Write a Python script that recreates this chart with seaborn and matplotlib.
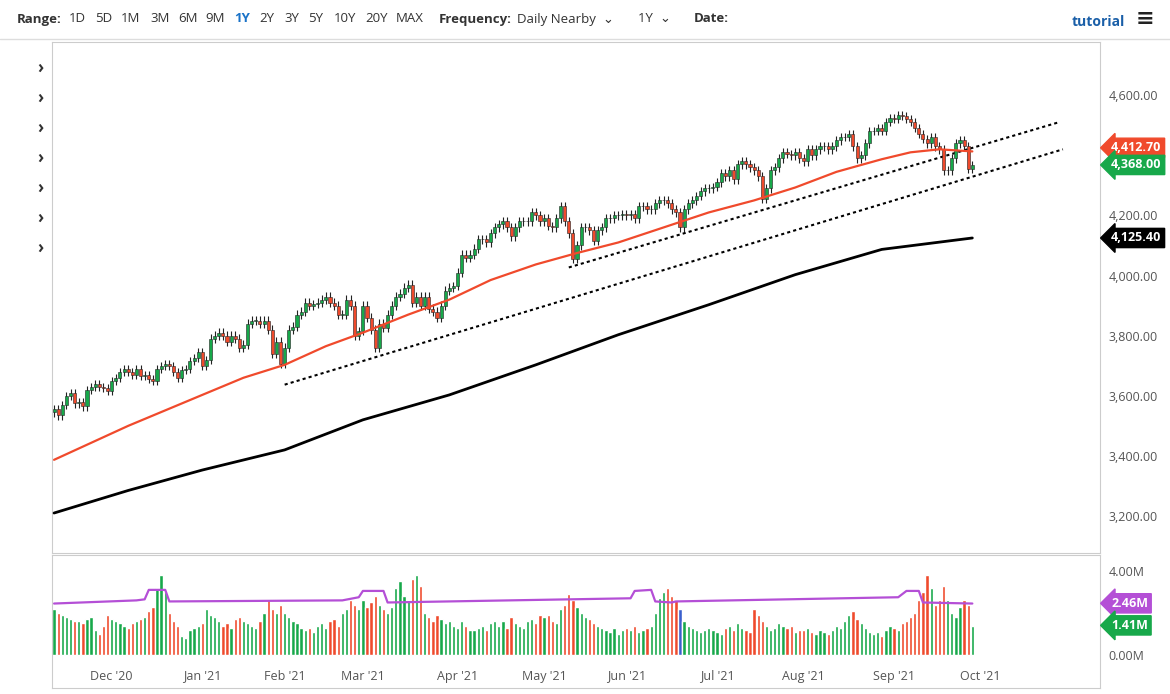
import numpy as np
import pandas as pd
import matplotlib
matplotlib.use("Agg")
import matplotlib.pyplot as plt
import seaborn as sns

# ---------------- data ----------------
close_nov = [3555,3535,3570,3600,3610,3575,3580,3565,3620,3630,3640,3630,3625,3615]
close_dec = [3650,3660,3680,3690,3680,3670,3690,3665,3670,3655,3650,3690,3700,3705,3700,3680,3660,3685,3690,3715,3725,3745]
close_jan = [3700,3720,3790,3800,3810,3800,3780,3800,3790,3760,3770,3840,3850,3850,3840,3850,3820,3740,3780,3705]
close_feb = [3760,3820,3830,3870,3880,3910,3900,3905,3910,3920,3930,3910,3900,3870,3870,3920,3900,3800,3815]
close_mar = [3900,3860,3820,3760,3840,3825,3870,3900,3930,3940,3960,3970,3910,3930,3900,3930,3890,3880,3860,3900,3950,3960,3965]
close_apr = [4010,4070,4060,4070,4090,4120,4120,4110,4140,4160,4170,4180,4160,4130,4160,4180,4180,4180,4210,4200,4180]
close_may = [4190,4165,4160,4190,4230,4180,4140,4055,4100,4160,4160,4150,4115,4150,4160,4190,4190,4200,4200,4205]
close_jun = [4200,4205,4190,4230,4230,4220,4220,4240,4250,4250,4240,4220,4210,4160,4220,4240,4250,4265,4280,4290,4290,4295]
close_jul = [4310,4340,4330,4350,4320,4370,4380,4370,4360,4350,4330,4255,4290,4350,4360,4390,4410,4405,4400,4410,4390]
close_aug = [4380,4420,4400,4420,4430,4430,4420,4430,4450,4460,4460,4470,4430,4390,4400,4440,4480,4480,4490,4480,4510,4525]
close_sep = [4520,4535,4530,4520,4510,4490,4470,4455,4440,4460,4430,4420,4350,4350,4390,4440,4450,4430,4355,4368]

vol_nov = [2.2,2.0,1.9,1.8,1.7,1.6,1.6,1.5,1.7,1.8,1.2,1.0,1.4,1.9]
vol_dec = [1.7,1.6,1.5,1.4,1.3,1.5,1.6,1.7,1.8,2.1,2.3,3.2,3.8,3.0,2.0,1.6,1.4,0.9,0.8,1.2,1.3,1.4]
vol_jan = [1.5,2.2,1.9,1.8,1.6,1.4,1.5,1.3,1.7,1.8,1.6,1.5,1.4,1.3,1.6,2.0,2.6,2.2,2.0,2.4]
vol_feb = [2.0,1.8,1.6,1.5,1.3,1.2,1.3,1.1,1.4,1.5,1.3,1.6,1.7,1.4,2.0,2.2,2.6,2.4,2.2]
vol_mar = [2.6,2.3,2.5,2.8,2.4,2.2,2.0,2.3,3.2,3.5,2.8,2.6,3.6,3.8,3.3,2.0,1.8,1.6,1.9,1.7,1.5,1.6,1.4]
vol_apr = [1.3,1.6,1.4,1.2,1.2,1.3,1.4,1.2,1.5,1.6,1.4,1.6,1.3,1.8,1.5,1.4,1.3,1.6,1.7,1.5,1.9]
vol_may = [1.8,1.9,1.6,1.5,2.2,2.4,2.9,2.6,2.3,2.0,1.8,1.7,1.5,1.4,1.3,1.2,1.1,1.3,1.0,1.2]
vol_jun = [1.3,1.2,1.4,1.1,1.2,1.3,1.4,2.0,2.7,3.0,3.2,2.8,2.6,2.2,1.6,1.4,1.3,1.2,1.1,1.2,1.3,1.2]
vol_jul = [1.1,1.0,1.3,1.4,1.2,1.5,1.3,1.2,1.1,2.2,1.9,1.6,1.4,1.2,1.3,1.5,1.4,1.3,1.4,1.1,1.2]
vol_aug = [1.2,1.3,1.1,1.0,1.2,1.1,1.0,1.2,1.4,1.3,1.6,1.9,2.1,1.7,1.5,1.3,1.1,1.0,1.1,0.9,1.2,1.4]
vol_sep = [1.3,1.2,1.5,1.6,1.8,2.0,2.6,3.0,3.8,3.2,2.4,2.6,3.3,2.6,2.0,1.8,2.3,2.6,2.4,1.4]

month_labels = ["Dec '20","Jan '21","Feb '21","Mar '21","Apr '21","May '21","Jun '21","Jul '21","Aug '21","Sep '21","Oct '21"]

# moving averages (bar index, value)
ma50_idx = [0, 18, 36, 46, 56, 66, 75, 86, 96, 106, 117, 127, 137, 148, 159, 170, 180, 190, 201, 208, 215, 223]
ma50_val = [3387, 3500, 3603, 3660, 3703, 3765, 3810, 3870, 3920, 3985, 4037, 4075, 4110, 4160, 4210, 4250, 4293, 4345, 4387, 4410, 4420, 4413]
ma200_idx = [0, 18, 36, 56, 75, 96, 117, 137, 159, 180, 201, 223]
ma200_val = [3210, 3285, 3353, 3420, 3520, 3603, 3703, 3803, 3903, 4003, 4087, 4125]
vma_idx = [0, 20, 22, 23, 27, 28, 70, 74, 75, 80, 81, 140, 141, 145, 146, 150, 151, 205, 207, 210, 211, 223]
vma_val = [2.45, 2.6, 2.65, 3.1, 3.1, 2.55, 2.6, 2.75, 3.05, 3.05, 2.5, 2.7, 3.05, 3.1, 2.55, 2.5, 2.55, 2.75, 3.05, 3.05, 2.5, 2.45]
trend1_idx = [56, 245]; trend1_val = [3637, 4420]
trend2_idx = [125, 244]; trend2_val = [4027, 4510]

# ---------------- build ----------------
closes = np.array(close_nov+close_dec+close_jan+close_feb+close_mar+close_apr+close_may+close_jun+close_jul+close_aug+close_sep, float)
vols = np.array(vol_nov+vol_dec+vol_jan+vol_feb+vol_mar+vol_apr+vol_may+vol_jun+vol_jul+vol_aug+vol_sep, float)
month_sizes = [len(a) for a in [close_nov,close_dec,close_jan,close_feb,close_mar,close_apr,close_may,close_jun,close_jul,close_aug,close_sep]]
opens = np.concatenate([[closes[0]-10], closes[:-1]])
n = len(closes)
idx = np.arange(n)
up = closes >= opens
GREEN, RED = "#17a84a", "#ef4a2c"
cols = np.where(up, GREEN, RED)

sns.set_style("white")
plt.rcParams['font.family'] = ['Open Sans', 'DejaVu Sans']
fig = plt.figure(figsize=(11.7, 6.94), dpi=100)
W, H = 1170, 694
ax = fig.add_axes([52/W, (H-553)/H, 1048/W, 511/H])
axv = fig.add_axes([52/W, (H-688)/H, 1048/W, 133/H], sharex=ax)

# candles
lo = np.minimum(opens, closes); hi = np.maximum(opens, closes)
ax.vlines(idx, lo-14, hi+14, color="#222222", lw=0.8, zorder=2)
ax.bar(idx, np.maximum(hi-lo, 2), bottom=lo, width=0.75, color=cols, edgecolor="#222222", linewidth=0.4, zorder=3)
sns.lineplot(x=ma50_idx, y=ma50_val, ax=ax, color="#f04a2c", lw=1.6, zorder=4)
sns.lineplot(x=ma200_idx, y=ma200_val, ax=ax, color="black", lw=2.0, zorder=4)
ax.plot(trend1_idx, trend1_val, ls=(0, (1.5, 1.5)), color="black", lw=1.5)
ax.plot(trend2_idx, trend2_val, ls=(0, (1.5, 1.5)), color="black", lw=1.5)
ax.set_xlim(-0.5, n + 30)
ax.set_ylim(3077, 4777)
ax.yaxis.tick_right()
ax.set_yticks([3200, 3400, 3600, 3800, 4000, 4200, 4600])
ax.set_yticklabels([f"{v:,.2f}" for v in [3200, 3400, 3600, 3800, 4000, 4200, 4600]], fontsize=9, color="#555555")
ax.tick_params(axis='y', length=0, pad=6)
plt.setp(ax.get_xticklabels(), visible=False)
ax.tick_params(axis='x', length=0)
for s in ax.spines.values():
    s.set_color("#cccccc")

def tag(a, y, text, fc):
    a.annotate(text, xy=(1.0, y), xycoords=("axes fraction", "data"), xytext=(8, 0), textcoords="offset points",
               ha="left", va="center", fontsize=9, fontweight="bold", color="white",
               bbox=dict(boxstyle="larrow,pad=0.25", fc=fc, ec=fc))
tag(ax, 4425, "4,412.70", "#f04a2c")
tag(ax, 4368, "4,368.00", GREEN)
tag(ax, 4125, "4,125.40", "black")

# volume
vcols = cols.copy()
vcols[152] = "#3a5fcd"
axv.bar(idx, vols, width=0.8, color=vcols)
sns.lineplot(x=vma_idx, y=vma_val, ax=axv, color="#b44fd6", lw=1.6)
axv.set_ylim(-1.57, 4.76)
axv.yaxis.tick_right()
axv.set_yticks([0, 4])
axv.set_yticklabels(["0.00M", "4.00M"], fontsize=9, color="#555555")
axv.tick_params(axis='y', length=0, pad=6)
starts = np.cumsum(month_sizes)[:-1]
ticks = list(starts) + [n + 1]
axv.set_xticks([])
for t, lab in zip(ticks, month_labels):
    axv.text(t, -1.0, lab, ha="center", va="center", fontsize=9, color="#555555")
for s in axv.spines.values():
    s.set_color("#cccccc")
tag(axv, 2.46, "2.46M", "#b44fd6")
tag(axv, 1.41, "1.41M", GREEN)

# toolbar
fig.text(17/W, 1-19/H, "Range:", fontsize=9.5, fontweight="bold", color="#333", va="center")
xs = [69, 95, 121, 150, 178, 205, 234, 259, 284, 308, 334, 365, 396]
for x, t in zip(xs, ["1D","5D","1M","3M","6M","9M","1Y","2Y","3Y","5Y","10Y","20Y","MAX"]):
    fig.text(x/W, 1-19/H, t, fontsize=9.5, color="#1a73c8" if t == "1Y" else "#333", va="center",
             fontweight="bold" if t == "1Y" else "normal")
fig.text(439/W, 1-19/H, "Frequency:", fontsize=9.5, fontweight="bold", color="#333", va="center")
fig.text(517/W, 1-19/H, "Daily Nearby  ⌄", fontsize=9.5, color="#333", va="center")
fig.text(638/W, 1-19/H, "1Y  ⌄", fontsize=9.5, color="#333", va="center")
fig.text(694/W, 1-19/H, "Date:", fontsize=9.5, fontweight="bold", color="#333", va="center")
fig.text(1072/W, 1-22/H, "tutorial", fontsize=10, fontweight="bold", color="#1a5fa8", va="center")
fig.text(1136/W, 1-20/H, "≡", fontsize=16, fontweight="bold", color="#222", va="center")
fig.add_artist(plt.Line2D([0, 1], [1-39/H, 1-39/H], color="#dddddd", lw=1))
for y in [68, 98, 128, 158, 188, 218, 248]:
    fig.text(37/W, 1-y/H, "›", fontsize=12, fontweight="bold", color="#333", va="center")

fig.savefig("out.png", dpi=100)
